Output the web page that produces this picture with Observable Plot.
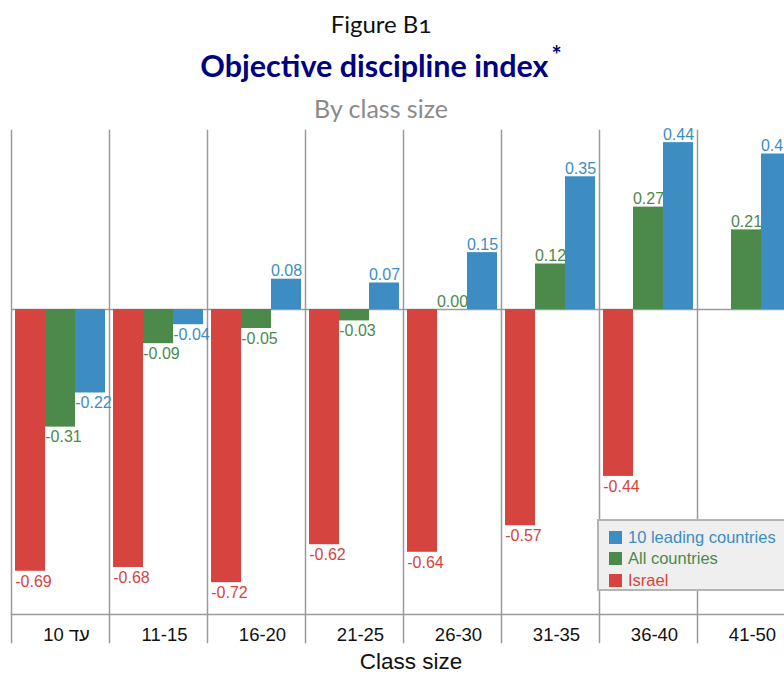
<!DOCTYPE html>
<html>
<head>
<meta charset="utf-8">
<script src="https://cdn.jsdelivr.net/npm/d3@7"></script>
<script src="https://cdn.jsdelivr.net/npm/@observablehq/plot@0.6"></script>
<style>
  html, body { margin: 0; padding: 0; background: #fff; overflow: hidden; }
  #wrap { position: relative; width: 784px; height: 676px; overflow: hidden; }
  .t { position: absolute; left: 0; width: 762px; text-align: center; line-height: 1; font-family: Lato, "Open Sans", sans-serif; white-space: nowrap; }
  #fig { top: 12px; font-size: 24px; color: #111; }
  #title { top: 50px; font-size: 30.5px; font-weight: bold; color: #000080; }
  #title sup { font-size: 24px; position: relative; top: -7px; vertical-align: top; margin-left: 3px; }
  #sub { top: 96px; font-size: 25px; color: #8a8a8a; }
  #chart { position: absolute; left: 0; top: 120px; }
  #chart svg { max-width: none !important; }
  #xlab { position: absolute; left: 311px; width: 200px; top: 653px; height: 18px; text-align: center; font-family: "Liberation Sans", Arial, sans-serif; font-size: 22.5px; line-height: 18px; color: #111; }
  #legend { position: absolute; left: 597px; top: 519px; width: 210px; height: 72px; background: #eeefee; border: 2px solid #b4b4b4; box-sizing: border-box; font-family: "Liberation Sans", Arial, sans-serif; font-size: 16.5px; }
  .li { position: absolute; left: 10px; height: 20px; line-height: 20px; white-space: nowrap; }
  .sw { display: inline-block; width: 13px; height: 13px; vertical-align: -1px; margin-right: 6px; }
</style>
</head>
<body>
<div id="wrap">
  <div class="t" id="fig">Figure B<span style="font-variant-numeric: oldstyle-nums;">1</span></div>
  <div class="t" id="title">Objective discipline index<sup>*</sup></div>
  <div class="t" id="sub">By class size</div>
  <div id="chart"></div>
  <div id="legend"></div>
  <div id="xlab">Class size</div>
</div>
<script>
// ---- data ----
const classSizes = ["עד 10", "11-15", "16-20", "21-25", "26-30", "31-35", "36-40", "41-50"];
const seriesNames = ["Israel", "All countries", "10 leading countries"];
const israel       = [-0.69, -0.68, -0.72, -0.62, -0.64, -0.57, -0.44, null];
const allCountries = [-0.31, -0.09, -0.05, -0.03, 0.00, 0.12, 0.27, 0.21];
const leading10    = [-0.22, -0.04, 0.08, 0.07, 0.15, 0.35, 0.44, 0.41];
const legendOrder = ["10 leading countries", "All countries", "Israel"];
const xTitle = "Class size";

// colours
const colors = {"Israel": "#d5443e", "All countries": "#4b8a4b", "10 leading countries": "#3d8dc2"};

const seriesValues = [israel, allCountries, leading10];
const rows = [];
classSizes.forEach((c, i) => {
  seriesNames.forEach((s, j) => {
    const v = seriesValues[j][i];
    if (v !== null && v !== undefined) rows.push({cls: c, series: s, value: v});
  });
});

const gridStroke = "#9a9a9a";

const chart = Plot.plot({
  width: 800,
  height: 556,
  marginTop: 10,
  marginBottom: 62,
  marginLeft: 11,
  marginRight: 5,
  style: {fontFamily: "'Liberation Sans', Arial, sans-serif", fontSize: "16px", background: "transparent", overflow: "visible", maxWidth: "none"},
  fx: {domain: classSizes, padding: 0},
  x: {domain: seriesNames, paddingInner: 0, paddingOuter: 0.1, axis: null},
  y: {domain: [-0.804, 0.472], axis: null},
  color: {domain: seriesNames, range: seriesNames.map(s => colors[s])},
  marks: [
    Plot.frame({anchor: "left", stroke: gridStroke, strokeWidth: 1.5, insetBottom: -28}),
    Plot.frame({anchor: "bottom", stroke: gridStroke, strokeWidth: 1.5}),
    Plot.ruleY([0], {stroke: gridStroke, strokeWidth: 1.5}),
    Plot.barY(rows, {fx: "cls", x: "series", y: "value", fill: "series"}),
    Plot.text(rows.filter(d => d.value >= 0), {
      fx: "cls", x: "series", y: "value", text: d => d.value.toFixed(2),
      fill: "series", lineAnchor: "bottom", dy: -3, fontSize: 16
    }),
    Plot.text(rows.filter(d => d.value < 0), {
      fx: "cls", x: "series", y: "value", text: d => d.value.toFixed(2),
      fill: "series", lineAnchor: "top", dy: 4, dx: 3, fontSize: 16
    }),
    Plot.axisFx({anchor: "bottom", tickSize: 0, tickPadding: 13, fontSize: 18.5, dx: 6, label: null, fill: "#111"})
  ]
});
document.getElementById("chart").appendChild(chart);

// legend
const leg = document.getElementById("legend");
const tops = [6, 27, 49];
legendOrder.forEach((s, i) => {
  const d = document.createElement("div");
  d.className = "li";
  d.style.top = tops[i] + "px";
  d.style.color = colors[s];
  d.innerHTML = `<span class="sw" style="background:${colors[s]}"></span>${s}`;
  leg.appendChild(d);
});
document.getElementById("xlab").textContent = xTitle;
</script>
</body>
</html>
